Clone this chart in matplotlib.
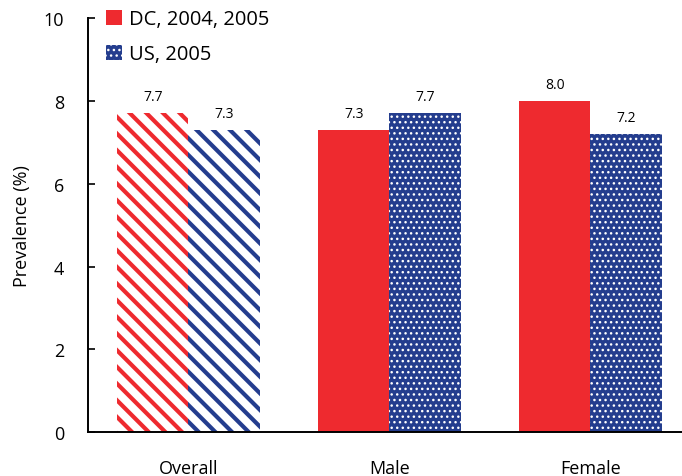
import numpy as np
import matplotlib
matplotlib.use("Agg")
import matplotlib.pyplot as plt
from matplotlib.patches import Patch

plt.rcParams["font.family"] = ["Open Sans", "DejaVu Sans"]

groups = ["Overall", "Male", "Female"]
dc_vals = [7.7, 7.3, 8.0]
us_vals = [7.3, 7.7, 7.2]
series_names = ["DC, 2004, 2005", "US, 2005"]

red = "#ee2a2f"
blue = "#243d8e"

fig = plt.figure(figsize=(6.82, 4.77), dpi=100)
ax = fig.add_axes([0.129, 0.092, 0.875, 0.868])

x = np.arange(len(groups))
w = 0.355


def dotted_bar(xpos, h):
    with plt.rc_context({"hatch.linewidth": 1.0}):
        return ax.bar(xpos, h, w, color=blue, edgecolor="white",
                      hatch="...", linewidth=0)


def striped_bar(xpos, h, c):
    with plt.rc_context({"hatch.linewidth": 3.0}):
        return ax.bar(xpos, h, w, color="white", edgecolor=c,
                      hatch="\\\\", linewidth=0)


for i in range(len(groups)):
    if i == 0:
        # overall bars are striped
        striped_bar(x[i] - w / 2, dc_vals[i], red)
        striped_bar(x[i] + w / 2, us_vals[i], blue)
    else:
        ax.bar(x[i] - w / 2, dc_vals[i], w, color=red, linewidth=0)
        dotted_bar(x[i] + w / 2, us_vals[i])
    ax.text(x[i] - w / 2, dc_vals[i] + 0.22, f"{dc_vals[i]:.1f}",
            ha="center", va="bottom", fontsize=10)
    ax.text(x[i] + w / 2, us_vals[i] + 0.22, f"{us_vals[i]:.1f}",
            ha="center", va="bottom", fontsize=10)

ax.set_xlim(-0.5, 2.47)
ax.set_ylim(0, 10)
ax.set_yticks([0, 2, 4, 6, 8, 10])
ax.set_xticks(x)
ax.set_xticklabels(groups)
ax.tick_params(axis="y", direction="in", length=5, width=1.2, labelsize=13, pad=17)
ax.tick_params(axis="x", length=0, labelsize=13, pad=19)
ax.spines["top"].set_visible(False)
ax.spines["right"].set_visible(False)
for s in ["left", "bottom"]:
    ax.spines[s].set_linewidth(1.4)
ax.set_ylabel("Prevalence (%)", fontsize=13, labelpad=9)

with plt.rc_context({"hatch.linewidth": 1.0}):
    handles = [Patch(facecolor=red, linewidth=0),
               Patch(facecolor=blue, edgecolor="white", hatch="...", linewidth=0)]
ax.legend(handles, series_names, loc="upper left", bbox_to_anchor=(0.0, 1.065),
          frameon=False, fontsize=14.5, handlelength=0.8, handleheight=0.8,
          handletextpad=0.35, labelspacing=0.75)

fig.savefig("out.png", dpi=100)
